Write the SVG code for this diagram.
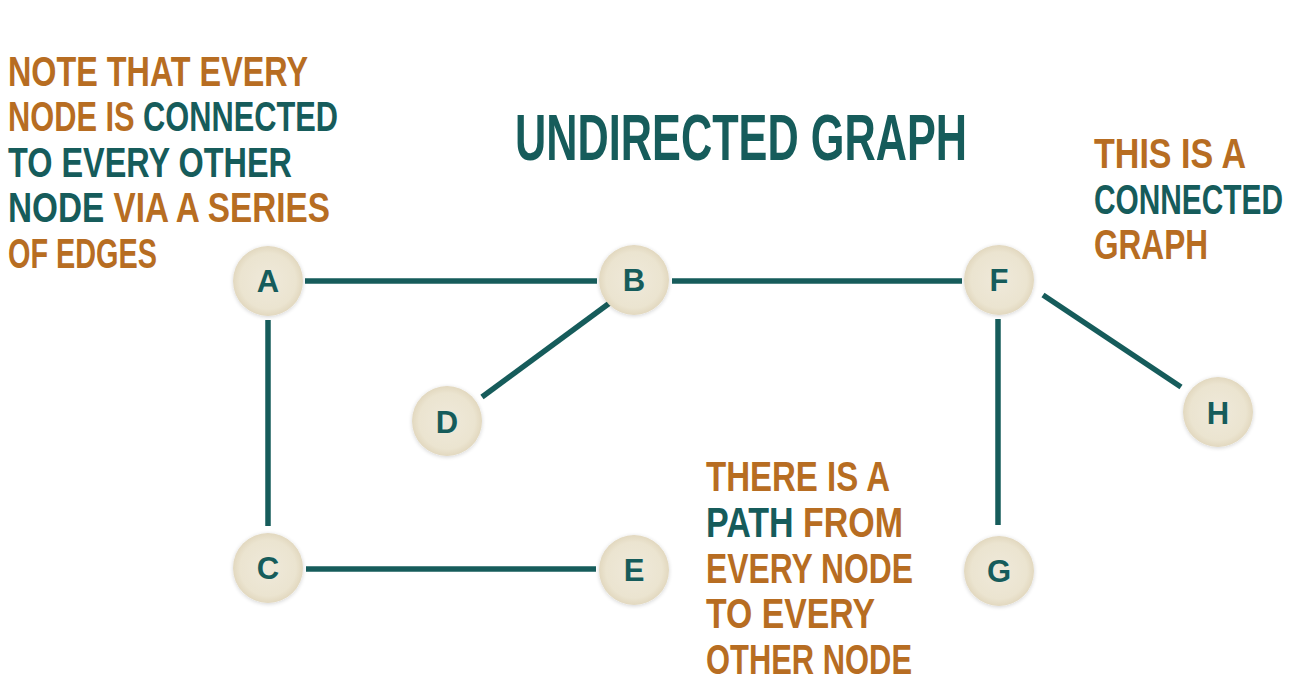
<svg xmlns="http://www.w3.org/2000/svg" width="1289" height="686" viewBox="0 0 1289 686">
  <defs>
    <radialGradient id="nodeFill" cx="50%" cy="50%" r="50%">
      <stop offset="0%" stop-color="#efe9da"/>
      <stop offset="80%" stop-color="#ebe4d0"/>
      <stop offset="100%" stop-color="#e2d8bf"/>
    </radialGradient>
    <filter id="soft" x="-30%" y="-30%" width="160%" height="160%">
      <feGaussianBlur in="SourceAlpha" stdDeviation="2"/>
      <feOffset dx="0" dy="1" result="b"/>
      <feComponentTransfer><feFuncA type="linear" slope="0.18"/></feComponentTransfer>
      <feMerge><feMergeNode/><feMergeNode in="SourceGraphic"/></feMerge>
    </filter>
    <style>
      .hand { font-family: "Liberation Sans Narrow", "Liberation Sans", Arial, sans-serif; font-weight: bold; }
      .or { fill: #b76d22; }
      .tl { fill: #165c5b; }
      .node circle { fill: url(#nodeFill); filter: url(#soft); }
      .node text { font-family: "Liberation Sans Narrow", "Liberation Sans", Arial, sans-serif; font-weight: bold; font-size: 31px; fill: #165c5b; text-anchor: middle; }
      .edge { stroke: #165c5b; stroke-width: 5.5; fill: none; stroke-linecap: butt; }
    </style>
  </defs>
  <rect width="1289" height="686" fill="#ffffff"/>

  <!-- Title -->
  <text id="title" class="hand tl" x="515" y="160" font-size="64" textLength="452" lengthAdjust="spacingAndGlyphs">UNDIRECTED GRAPH</text>

  <!-- Left note -->
  <g id="note-left" class="hand" font-size="43">
    <text class="or" x="8" y="86" textLength="300" lengthAdjust="spacingAndGlyphs">NOTE THAT EVERY</text>
    <text x="8" y="131" textLength="330" lengthAdjust="spacingAndGlyphs"><tspan class="or">NODE IS </tspan><tspan class="tl">CONNECTED</tspan></text>
    <text class="tl" x="8" y="177" textLength="284" lengthAdjust="spacingAndGlyphs">TO EVERY OTHER</text>
    <text x="8" y="222" textLength="322" lengthAdjust="spacingAndGlyphs"><tspan class="tl">NODE </tspan><tspan class="or">VIA A SERIES</tspan></text>
    <text class="or" x="8" y="268" textLength="149" lengthAdjust="spacingAndGlyphs">OF EDGES</text>
  </g>

  <!-- Right note -->
  <g id="note-right" class="hand" font-size="43">
    <text class="or" x="1094" y="168" textLength="152" lengthAdjust="spacingAndGlyphs">THIS IS A</text>
    <text class="tl" x="1094" y="214" textLength="189" lengthAdjust="spacingAndGlyphs">CONNECTED</text>
    <text class="or" x="1094" y="259" textLength="114" lengthAdjust="spacingAndGlyphs">GRAPH</text>
  </g>

  <!-- Bottom note -->
  <g id="note-bottom" class="hand" font-size="42">
    <text class="or" x="706" y="491" textLength="184" lengthAdjust="spacingAndGlyphs">THERE IS A</text>
    <text x="706" y="537" textLength="197" lengthAdjust="spacingAndGlyphs"><tspan class="tl">PATH </tspan><tspan class="or">FROM</tspan></text>
    <text class="or" x="706" y="583" textLength="207" lengthAdjust="spacingAndGlyphs">EVERY NODE</text>
    <text class="or" x="706" y="628" textLength="169" lengthAdjust="spacingAndGlyphs">TO EVERY</text>
    <text class="or" x="706" y="674" textLength="206" lengthAdjust="spacingAndGlyphs">OTHER NODE</text>
  </g>

  <!-- Connectors -->
  <g id="edges">
    <line class="edge" x1="305" y1="281" x2="597" y2="281"/>
    <line class="edge" x1="672" y1="281" x2="962" y2="281"/>
    <line class="edge" x1="268" y1="320" x2="268" y2="526"/>
    <line class="edge" x1="611" y1="302" x2="482" y2="397"/>
    <line class="edge" x1="306" y1="569" x2="596" y2="569"/>
    <line class="edge" x1="998" y1="319" x2="998" y2="525"/>
    <line class="edge" x1="1043" y1="295" x2="1181" y2="387"/>
  </g>

  <!-- Nodes -->
  <g id="node-A" class="node"><circle cx="268" cy="281" r="35"/><text x="268" y="292">A</text></g>
  <g id="node-B" class="node"><circle cx="634" cy="280" r="35"/><text x="634" y="291">B</text></g>
  <g id="node-F" class="node"><circle cx="999" cy="280" r="35"/><text x="999" y="291">F</text></g>
  <g id="node-D" class="node"><circle cx="447" cy="421" r="35"/><text x="447" y="433">D</text></g>
  <g id="node-H" class="node"><circle cx="1218" cy="412" r="35"/><text x="1218" y="424">H</text></g>
  <g id="node-C" class="node"><circle cx="268" cy="568" r="35"/><text x="268" y="579">C</text></g>
  <g id="node-E" class="node"><circle cx="634" cy="570" r="35"/><text x="634" y="581">E</text></g>
  <g id="node-G" class="node"><circle cx="999" cy="571" r="35"/><text x="999" y="582">G</text></g>
</svg>
